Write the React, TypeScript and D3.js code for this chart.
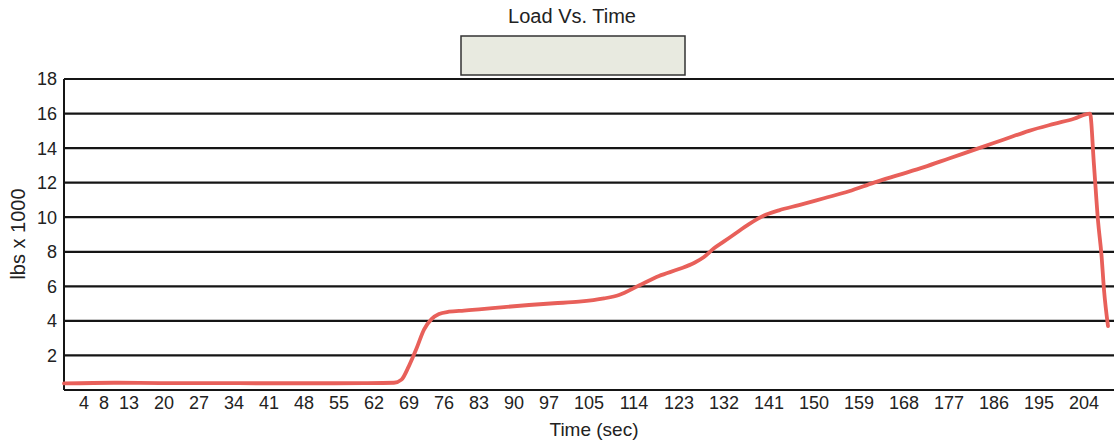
import React, { useEffect, useRef } from "react";
import * as d3 from "d3";

const times: number[] = [0, 10, 20, 30, 40, 50, 60, 66, 67.5, 69, 70.5, 72, 73.5, 75, 77, 80, 83, 88, 93, 98, 103, 108, 111, 115, 119, 123, 126, 128, 130, 132, 134, 137, 140, 143, 147, 152, 157, 162, 167, 172, 177, 183, 188, 193, 198, 202, 205.2, 206, 206.8, 207.5, 208, 208.8];
const loads: number[] = [0.38, 0.42, 0.40, 0.40, 0.39, 0.39, 0.40, 0.42, 0.6, 1.4, 2.4, 3.5, 4.1, 4.4, 4.53, 4.6, 4.67, 4.8, 4.92, 5.02, 5.11, 5.3, 5.5, 6.05, 6.6, 7.0, 7.35, 7.7, 8.2, 8.6, 9.0, 9.6, 10.1, 10.4, 10.7, 11.1, 11.5, 12.0, 12.45, 12.9, 13.4, 14.0, 14.5, 15.0, 15.4, 15.7, 16.0, 13.0, 9.8, 7.8, 5.8, 3.7];
const xTickLabels: number[] = [4, 8, 13, 20, 27, 34, 41, 48, 55, 62, 69, 76, 83, 90, 97, 105, 114, 123, 132, 141, 150, 159, 168, 177, 186, 195, 204];
const yTickLabels: number[] = [2, 4, 6, 8, 10, 12, 14, 16, 18];
const title = "Load Vs. Time";
const xTitle = "Time (sec)";
const yTitle = "lbs x 1000";

const W = 1114;
const H = 443;
const FONT = "'Liberation Sans', Arial, sans-serif";

export default function App() {
  const ref = useRef<SVGSVGElement>(null);
  useEffect(() => {
    const svg = d3.select(ref.current);
    svg.selectAll("*").remove();
    const x = d3.scaleLinear().domain([0, 210]).range([64, 1114]);
    const y = d3.scaleLinear().domain([0, 18]).range([390, 79]);

    svg.append("rect").attr("width", W).attr("height", H).attr("fill", "#fff");

    // gridlines
    svg.append("g").selectAll("line").data(yTickLabels).join("line")
      .attr("x1", x(0)).attr("x2", W)
      .attr("y1", (d) => y(d)).attr("y2", (d) => y(d))
      .attr("stroke", "#151515").attr("stroke-width", 2.2);
    // axes
    svg.append("line").attr("x1", x(0)).attr("x2", W).attr("y1", y(0)).attr("y2", y(0))
      .attr("stroke", "#151515").attr("stroke-width", 2.2);
    svg.append("line").attr("x1", x(0)).attr("x2", x(0)).attr("y1", y(18)).attr("y2", y(0))
      .attr("stroke", "#151515").attr("stroke-width", 2);

    // y tick labels
    svg.append("g").selectAll("text").data(yTickLabels).join("text")
      .attr("x", 57).attr("y", (d) => y(d)).attr("dy", "0.36em")
      .attr("text-anchor", "end").attr("font-family", FONT).attr("font-size", 18)
      .attr("fill", "#222").text((d) => d);
    // x tick labels
    svg.append("g").selectAll("text").data(xTickLabels).join("text")
      .attr("x", (d) => x(d)).attr("y", 409)
      .attr("text-anchor", "middle").attr("font-family", FONT).attr("font-size", 18)
      .attr("fill", "#222").text((d) => d);

    // titles
    svg.append("text").attr("x", 572).attr("y", 23).attr("text-anchor", "middle")
      .attr("font-family", FONT).attr("font-size", 20).attr("fill", "#222").text(title);
    svg.append("text").attr("x", 594).attr("y", 436).attr("text-anchor", "middle")
      .attr("font-family", FONT).attr("font-size", 19).attr("fill", "#222").text(xTitle);
    svg.append("text").attr("transform", `translate(25,234) rotate(-90)`).attr("text-anchor", "middle")
      .attr("font-family", FONT).attr("font-size", 20).attr("fill", "#222").text(yTitle);

    // legend box (empty)
    svg.append("rect").attr("x", 461).attr("y", 36).attr("width", 224).attr("height", 39)
      .attr("fill", "#e8eae0").attr("stroke", "#333").attr("stroke-width", 1.5);

    // data line
    const pts: [number, number][] = times.map((t, i) => [t, loads[i]]);
    const line = d3.line<[number, number]>()
      .x((d) => x(d[0])).y((d) => y(d[1]))
      .curve(d3.curveMonotoneX);
    svg.append("path").attr("d", line(pts) as string)
      .attr("fill", "none").attr("stroke", "#e8605a").attr("stroke-width", 3.8)
      .attr("stroke-linejoin", "round").attr("stroke-linecap", "round");
  }, []);
  return (
    <div style={{ position: "absolute", left: 0, top: 0 }}>
      <svg ref={ref} width={W} height={H} style={{ display: "block" }} />
    </div>
  );
}
